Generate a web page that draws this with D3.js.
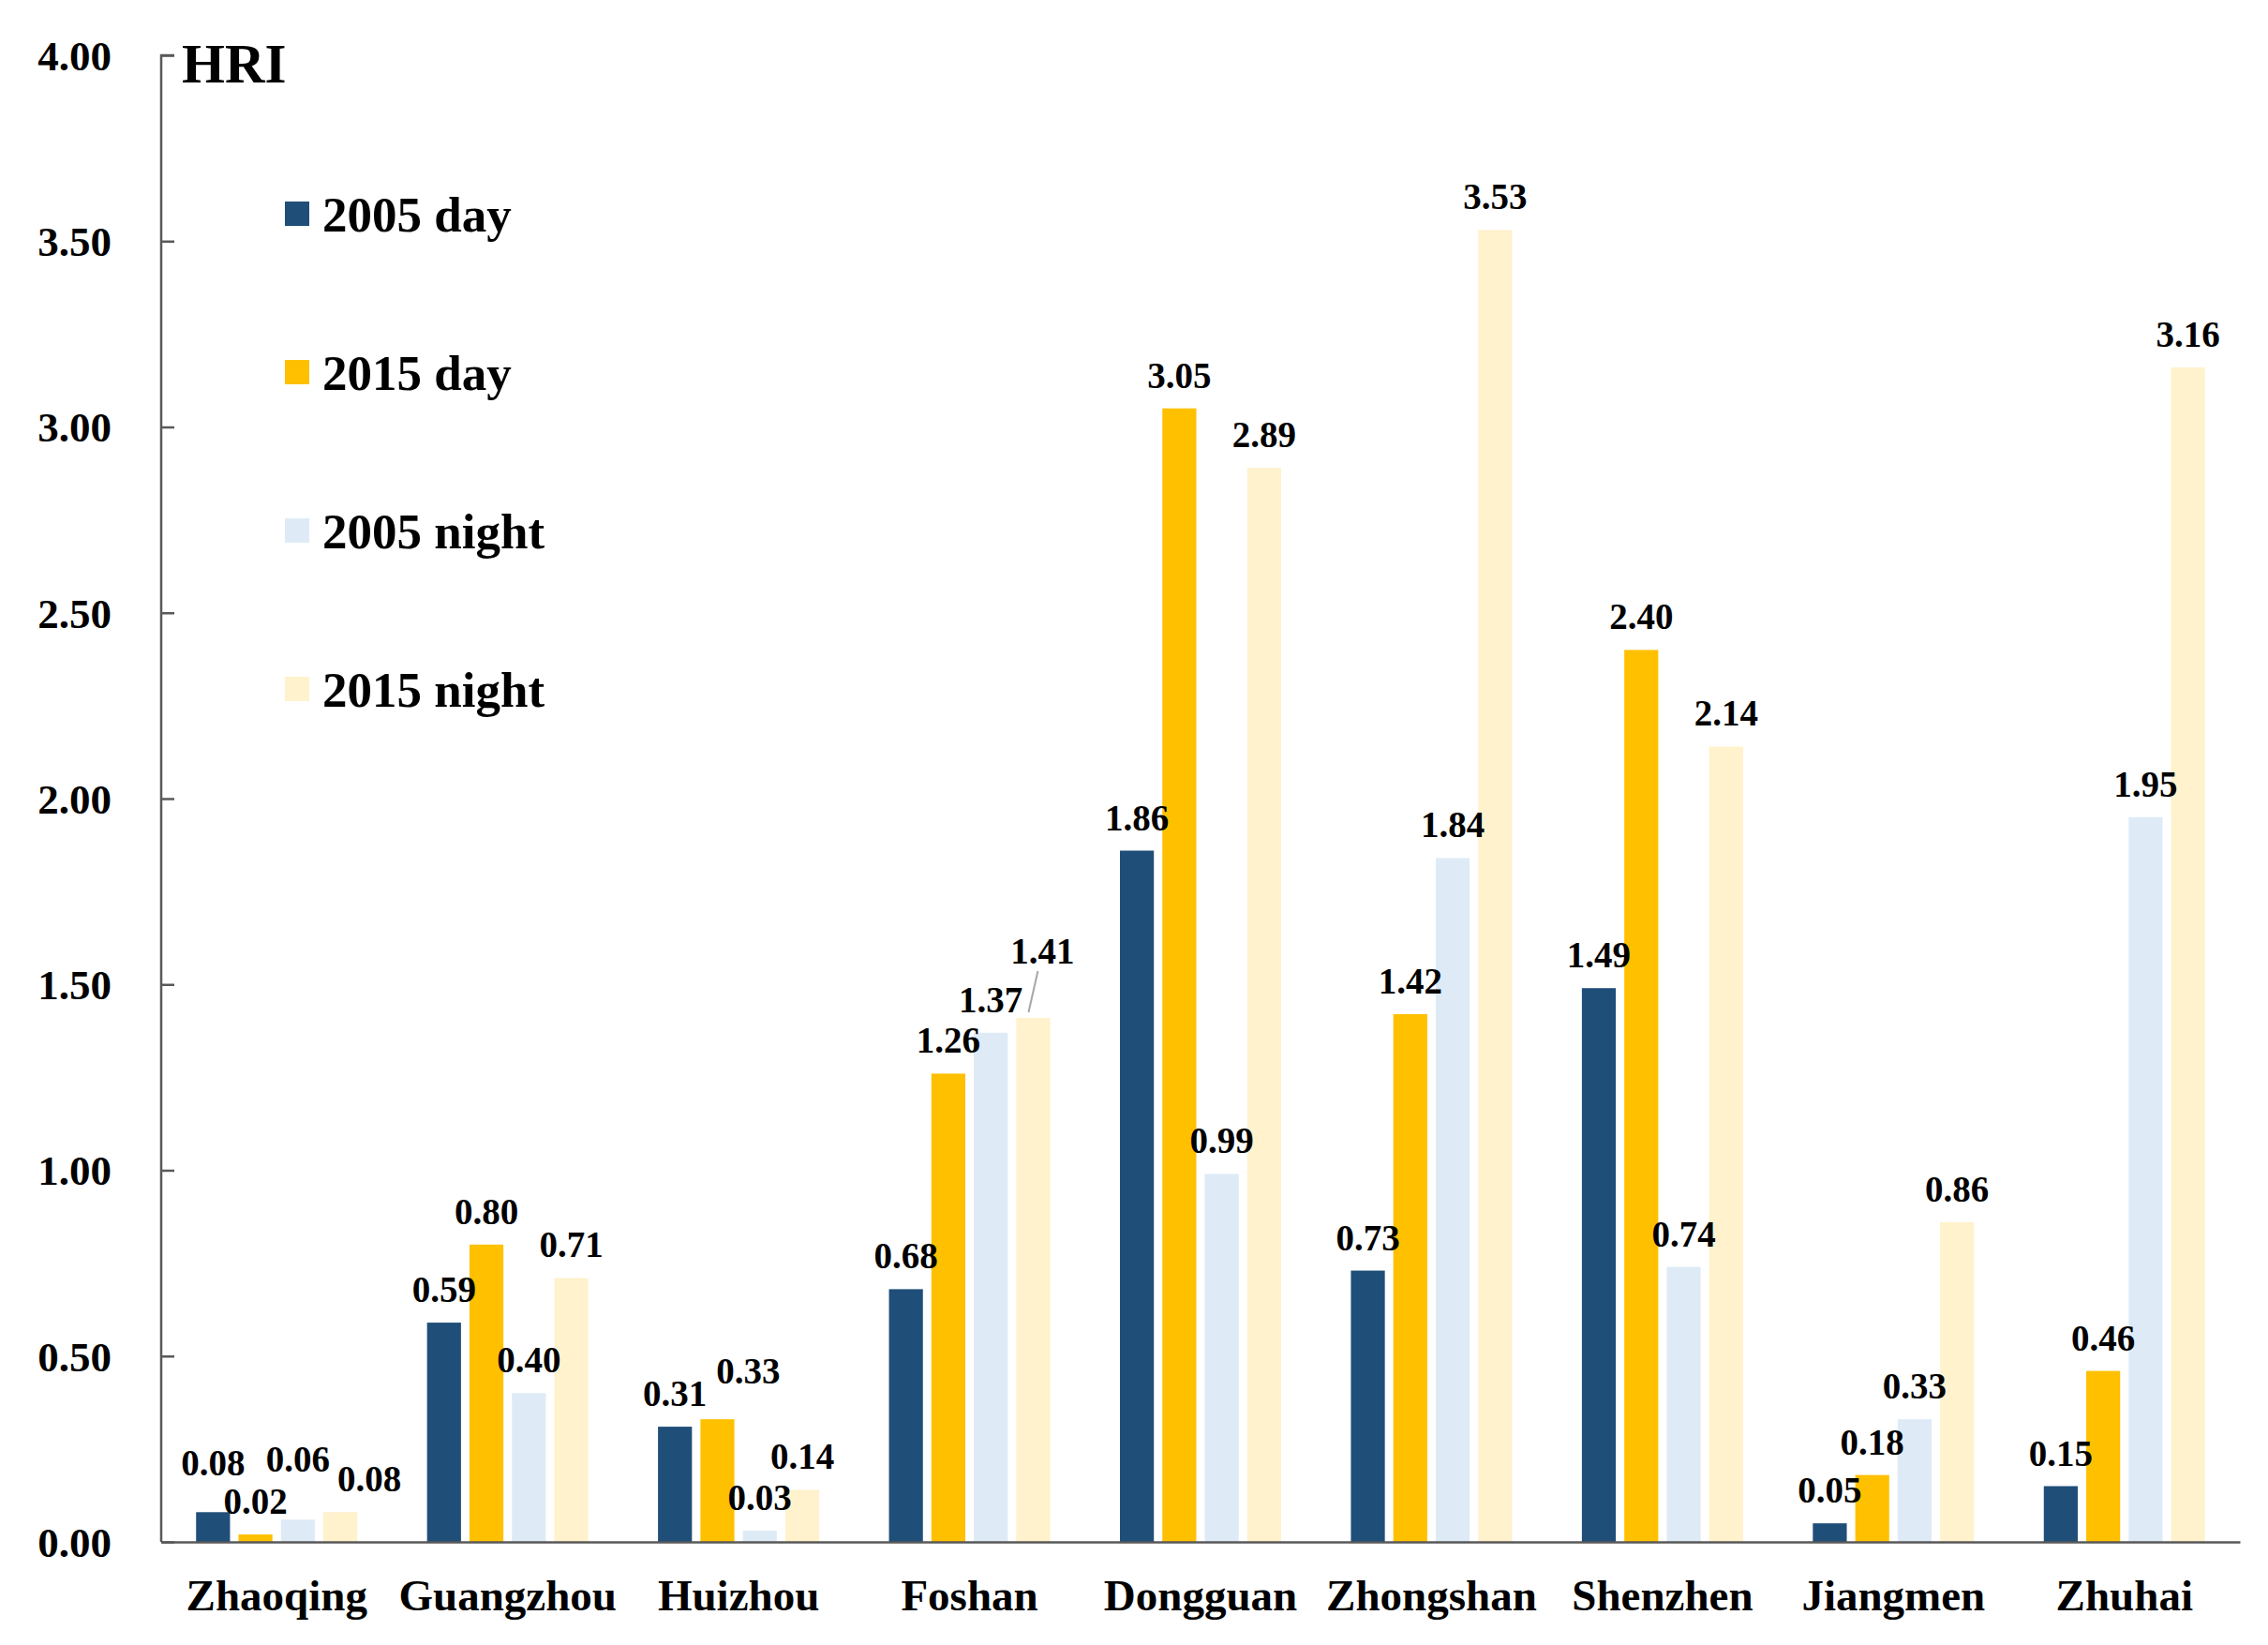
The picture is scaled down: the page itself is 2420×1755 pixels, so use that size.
<!DOCTYPE html>
<html>
<head>
<meta charset="utf-8">
<script src="https://cdn.jsdelivr.net/npm/d3@7"></script>
<style>
  body { margin: 0; background: #fff; }
  svg text { font-family: "Liberation Serif", "Times New Roman", serif; font-weight: bold; fill: #000; }
</style>
</head>
<body>
<svg id="chart" width="2420" height="1755"></svg>
<script>
const cities = ['Zhaoqing', 'Guangzhou', 'Huizhou', 'Foshan', 'Dongguan', 'Zhongshan', 'Shenzhen', 'Jiangmen', 'Zhuhai'];
const seriesNames = ['2005 day', '2015 day', '2005 night', '2015 night'];
const day2005 = [0.08, 0.59, 0.31, 0.68, 1.86, 0.73, 1.49, 0.05, 0.15];
const day2015 = [0.02, 0.80, 0.33, 1.26, 3.05, 1.42, 2.40, 0.18, 0.46];
const night2005 = [0.06, 0.40, 0.03, 1.37, 0.99, 1.84, 0.74, 0.33, 1.95];
const night2015 = [0.08, 0.71, 0.14, 1.41, 2.89, 3.53, 2.14, 0.86, 3.16];
const yTicks = [0, 0.5, 1, 1.5, 2, 2.5, 3, 3.5, 4];

const colors = ['#1f4e79', '#ffc000', '#deebf7', '#fff2cc'];

// labels that were dragged off their default spot in the original
const labelNudge = {
  'Zhaoqing|2005 day': [0, -17],
  'Zhaoqing|2005 night': [0, -29],
  'Zhaoqing|2015 night': [31, 0],
  'Huizhou|2015 day': [33, -16],
  'Foshan|2015 night': [10, -36]
};

const svg = d3.select('#chart');
const plotLeft = 172, plotRight = 2390, plotTop = 59, plotBottom = 1645;

const y = d3.scaleLinear().domain([0, 4]).range([plotBottom, plotTop]);
const x0 = d3.scaleBand().domain(cities).range([plotLeft, plotRight]);
const x1 = d3.scaleBand().domain(seriesNames).range([-86, 86]).paddingInner(0.2);

const allSeries = [day2005, day2015, night2005, night2015];
const rows = [];
cities.forEach((c, i) => {
  seriesNames.forEach((s, j) => {
    rows.push({ city: c, series: s, value: allSeries[j][i], color: colors[j] });
  });
});

const cx = d => x0(d.city) + x0.bandwidth() / 2 + x1(d.series) + x1.bandwidth() / 2;
const nudge = d => labelNudge[d.city + '|' + d.series] || [0, 0];

// bars
svg.append('g')
  .selectAll('rect')
  .data(rows)
  .enter()
  .append('rect')
  .attr('x', d => cx(d) - x1.bandwidth() / 2)
  .attr('y', d => y(d.value))
  .attr('width', x1.bandwidth())
  .attr('height', d => plotBottom - y(d.value))
  .attr('fill', d => d.color);

// y axis, ticks pointing inward
const yAxis = svg.append('g')
  .attr('transform', `translate(${plotLeft},0)`)
  .call(d3.axisRight(y).tickValues(yTicks).tickSize(14).tickFormat(''));
yAxis.select('.domain').attr('stroke', '#595959').attr('stroke-width', 2.5).attr('d', `M14,${plotTop}H0V${plotBottom}`);
yAxis.selectAll('.tick line').attr('stroke', '#595959').attr('stroke-width', 2.5);

svg.append('g')
  .selectAll('text')
  .data(yTicks)
  .enter()
  .append('text')
  .attr('x', 119)
  .attr('y', d => y(d))
  .attr('dy', '0.35em')
  .attr('text-anchor', 'end')
  .attr('font-size', 45)
  .text(d => d.toFixed(2));

// x axis
const xAxis = svg.append('g')
  .attr('transform', `translate(0,${plotBottom})`)
  .call(d3.axisBottom(x0).tickSize(0).tickPadding(40));
xAxis.select('.domain').attr('stroke', '#595959').attr('stroke-width', 2.5);
xAxis.selectAll('.tick text')
  .attr('font-size', 47)
  .attr('font-family', '"Liberation Serif", serif')
  .attr('font-weight', 'bold')
  .attr('fill', '#000');

// value labels
svg.append('g')
  .selectAll('text')
  .data(rows)
  .enter()
  .append('text')
  .attr('x', d => cx(d) + nudge(d)[0])
  .attr('y', d => y(d.value) - 22 + nudge(d)[1])
  .attr('text-anchor', 'middle')
  .attr('font-size', 39)
  .text(d => d.value.toFixed(2));

// leader line for the moved Foshan label
const fo = rows.find(r => r.city === 'Foshan' && r.series === '2015 night');
svg.append('line')
  .attr('x1', cx(fo) - 5).attr('y1', y(fo.value) - 6)
  .attr('x2', cx(fo) + 5).attr('y2', y(fo.value) - 50)
  .attr('stroke', '#a6a6a6').attr('stroke-width', 2);

// axis title
svg.append('text')
  .attr('x', 194)
  .attr('y', 88)
  .attr('font-size', 59)
  .text('HRI');

// legend
const legend = svg.append('g')
  .selectAll('g')
  .data(seriesNames)
  .enter()
  .append('g')
  .attr('transform', (d, i) => `translate(304,${228 + i * 169})`);

legend.append('rect')
  .attr('x', 0).attr('y', -13)
  .attr('width', 26).attr('height', 26)
  .attr('fill', (d, i) => colors[i]);

legend.append('text')
  .attr('x', 40)
  .attr('y', 0)
  .attr('dy', '0.35em')
  .attr('font-size', 53)
  .text(d => d);
</script>
</body>
</html>
